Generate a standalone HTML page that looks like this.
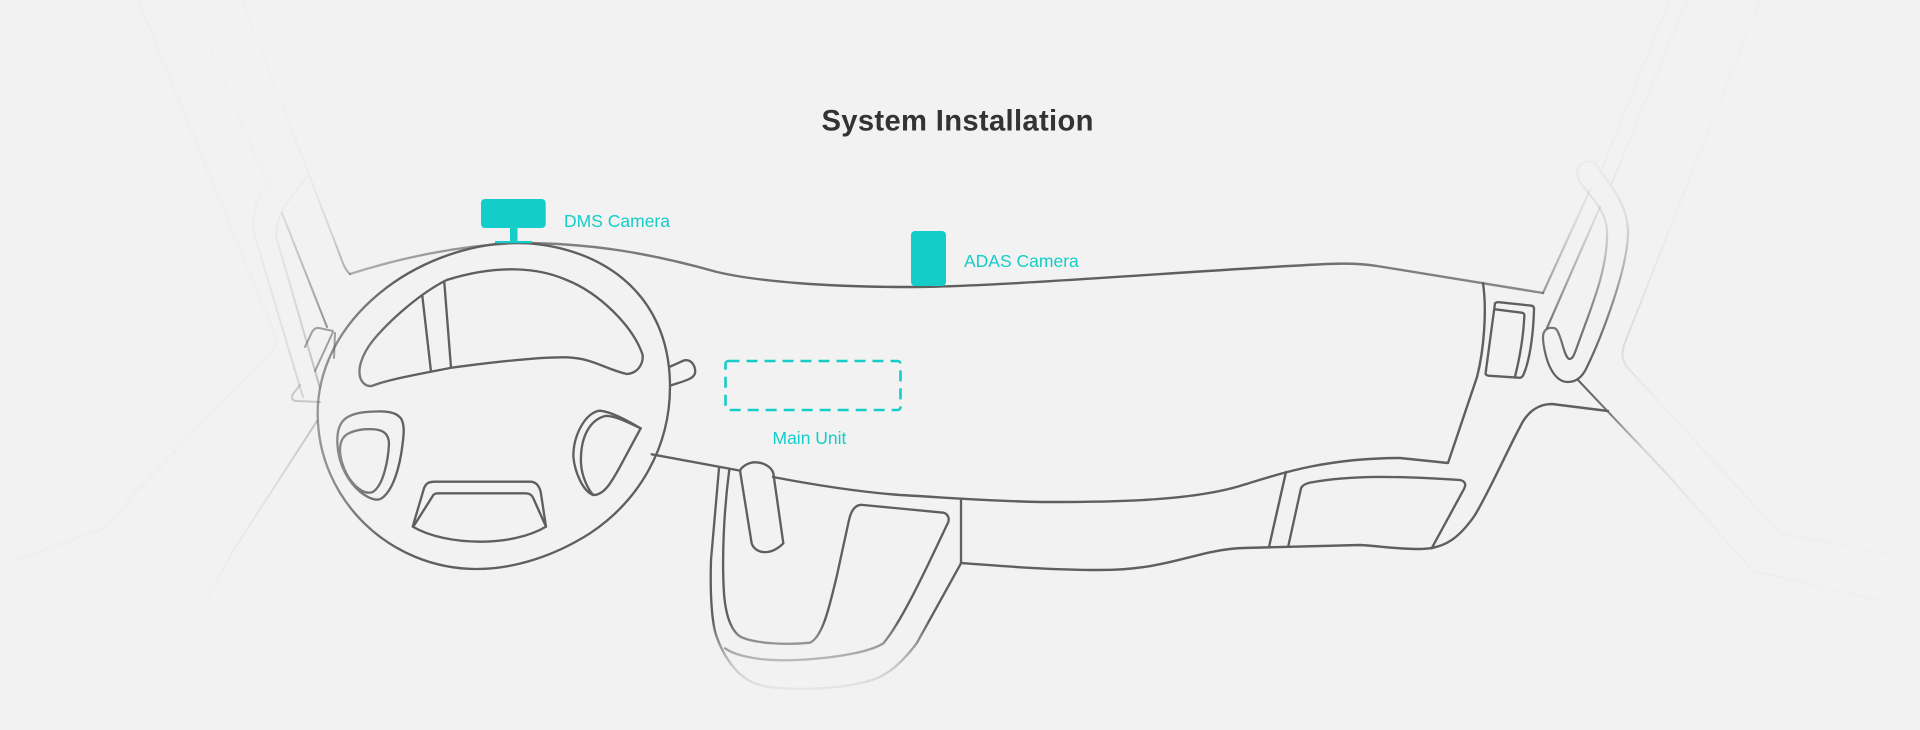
<!DOCTYPE html>
<html><head><meta charset="utf-8"><style>
html,body{margin:0;padding:0;background:#f2f2f2}
svg{display:block}
text{font-family:"Liberation Sans",sans-serif}
</style></head><body>
<svg width="1920" height="730" viewBox="0 0 1920 730" xmlns="http://www.w3.org/2000/svg" fill="none" stroke-linejoin="round" stroke-linecap="round">
<defs>
<filter id="soft" filterUnits="userSpaceOnUse" x="0" y="0" width="1920" height="730"><feGaussianBlur stdDeviation=".3"/></filter>
<linearGradient id="gTop" gradientUnits="userSpaceOnUse" x1="350" y1="0" x2="1543" y2="0">
<stop offset="0" stop-color="#5e5e5e" stop-opacity=".45"/><stop offset=".15" stop-color="#5e5e5e" stop-opacity=".75"/><stop offset=".3" stop-color="#5e5e5e" stop-opacity=".85"/><stop offset=".42" stop-color="#5e5e5e"/><stop offset=".75" stop-color="#5e5e5e"/><stop offset=".87" stop-color="#5e5e5e" stop-opacity=".8"/><stop offset="1" stop-color="#5e5e5e" stop-opacity=".7"/>
</linearGradient>
<linearGradient id="gRP" gradientUnits="userSpaceOnUse" x1="0" y1="130" x2="0" y2="370">
<stop offset="0" stop-color="#5e5e5e" stop-opacity=".015"/><stop offset=".17" stop-color="#5e5e5e" stop-opacity=".05"/><stop offset=".375" stop-color="#5e5e5e" stop-opacity=".15"/><stop offset=".54" stop-color="#5e5e5e" stop-opacity=".38"/><stop offset=".8" stop-color="#5e5e5e" stop-opacity=".8"/><stop offset="1" stop-color="#5e5e5e"/>
</linearGradient>
<linearGradient id="gLA" gradientUnits="userSpaceOnUse" x1="0" y1="110" x2="0" y2="400">
<stop offset="0" stop-color="#666" stop-opacity=".008"/><stop offset=".4" stop-color="#666" stop-opacity=".03"/><stop offset=".8" stop-color="#666" stop-opacity=".14"/><stop offset="1" stop-color="#666" stop-opacity=".22"/>
</linearGradient>
<linearGradient id="gLB" gradientUnits="userSpaceOnUse" x1="0" y1="150" x2="0" y2="400">
<stop offset="0" stop-color="#666" stop-opacity=".02"/><stop offset=".35" stop-color="#666" stop-opacity=".07"/><stop offset=".6" stop-color="#666" stop-opacity=".18"/><stop offset="1" stop-color="#666" stop-opacity=".4"/>
</linearGradient>
<linearGradient id="gLT" gradientUnits="userSpaceOnUse" x1="0" y1="100" x2="0" y2="274">
<stop offset="0" stop-color="#666" stop-opacity=".012"/><stop offset=".46" stop-color="#666" stop-opacity=".04"/><stop offset=".75" stop-color="#666" stop-opacity=".2"/><stop offset="1" stop-color="#666" stop-opacity=".5"/>
</linearGradient>
<linearGradient id="gLC" gradientUnits="userSpaceOnUse" x1="0" y1="210" x2="0" y2="330">
<stop offset="0" stop-color="#666" stop-opacity=".12"/><stop offset="1" stop-color="#666" stop-opacity=".7"/>
</linearGradient>
<linearGradient id="gLL" gradientUnits="userSpaceOnUse" x1="0" y1="421" x2="0" y2="600">
<stop offset="0" stop-color="#666" stop-opacity=".35"/><stop offset=".45" stop-color="#666" stop-opacity=".1"/><stop offset="1" stop-color="#666" stop-opacity=".01"/>
</linearGradient>
<linearGradient id="gDiag" gradientUnits="userSpaceOnUse" x1="1578" y1="0" x2="1880" y2="0">
<stop offset="0" stop-color="#5e5e5e"/><stop offset=".1" stop-color="#5e5e5e" stop-opacity=".85"/><stop offset=".22" stop-color="#666" stop-opacity=".22"/><stop offset=".4" stop-color="#666" stop-opacity=".035"/><stop offset="1" stop-color="#666" stop-opacity=".015"/>
</linearGradient>
<linearGradient id="gRF" gradientUnits="userSpaceOnUse" x1="0" y1="0" x2="0" y2="560">
<stop offset="0" stop-color="#666" stop-opacity=".01"/><stop offset=".4" stop-color="#666" stop-opacity=".03"/><stop offset=".62" stop-color="#666" stop-opacity=".16"/><stop offset=".72" stop-color="#666" stop-opacity=".035"/><stop offset="1" stop-color="#666" stop-opacity=".02"/>
</linearGradient>
<linearGradient id="gMh" gradientUnits="userSpaceOnUse" x1="315" y1="0" x2="400" y2="0">
<stop offset="0" stop-color="#fff" stop-opacity=".6"/><stop offset="1" stop-color="#fff"/>
</linearGradient>
<linearGradient id="gMv" gradientUnits="userSpaceOnUse" x1="0" y1="620" x2="0" y2="692">
<stop offset="0" stop-color="#fff"/><stop offset=".4" stop-color="#fff" stop-opacity=".55"/><stop offset=".65" stop-color="#fff" stop-opacity=".28"/><stop offset="1" stop-color="#fff" stop-opacity=".05"/>
</linearGradient>
<mask id="mH" maskUnits="userSpaceOnUse" x="0" y="0" width="1920" height="730"><rect width="1920" height="730" fill="url(#gMh)"/></mask>
<mask id="mV" maskUnits="userSpaceOnUse" x="0" y="0" width="1920" height="730"><rect width="1920" height="730" fill="url(#gMv)"/></mask>
</defs>
<rect width="1920" height="730" fill="#f2f2f2"/>

<g filter="url(#soft)">
<!-- far faint lines -->
<g stroke-width="2">
<path d="M138 0L275 335Q279 344 272 351L128 500Q117 520 100 530L18 559" stroke="#666" stroke-opacity=".025"/>
<path d="M190 0L267 183" stroke="url(#gLA)"/>
<path d="M297 155L262 192Q253 205 253 230L303 397" stroke="url(#gLA)"/>
<path d="M308 175L286 204Q276 220 276 236L320 388" stroke="url(#gLB)"/>
<path d="M282 213L327 327" stroke="url(#gLC)"/>
<path d="M242 0L341 258Q345 270 350 274" stroke="url(#gLT)"/>
<path d="M317 421L233 551L207 599" stroke="url(#gLL)"/>
<path d="M300 385L293 394Q290 400 296 401L320 402" stroke="#666" stroke-opacity=".3"/>
<path d="M333 331L319 328Q315 327 312 332L305 347M333 332L315 371M335 333L334 358" stroke="#666" stroke-opacity=".6"/>
</g>

<!-- top dash line -->
<path d="M350 274C400 258 460 245 520 243C590 243 650 253 717 272C760 282 830 287 910 287C1000 287 1200 270 1327 264C1350 263 1365 264 1377 266L1543 293" stroke="url(#gTop)" stroke-width="2.4"/>

<!-- steering wheel -->
<g mask="url(#mH)"><g transform="translate(280 180) scale(.33333)" stroke="#5e5e5e" stroke-width="7">
<path d="M700 188C950 190 1170 330 1170 620C1170 800 1080 960 930 1060C820 1130 700 1167 590 1167C330 1167 113 960 113 700C113 420 400 200 700 188Z"/>
<path d="M275 618C320 600 400 585 515 563C650 545 780 530 860 532C940 535 970 565 1040 582C1075 580 1090 550 1088 525C1060 440 960 340 860 300C780 265 660 250 500 300C420 340 330 420 280 480C240 530 235 570 240 590C245 610 260 620 275 618Z"/>
<path d="M427 348L453 575M493 308L513 563"/>
<path d="M172 790C170 730 190 705 250 697C300 692 340 692 358 710C375 725 372 760 368 790C360 860 340 930 305 955C290 965 265 955 240 935C210 910 175 860 172 790Z"/>
<path d="M180 810C180 770 200 755 250 748C295 745 325 750 327 790C325 840 310 915 280 935C260 945 235 930 215 905C195 880 180 840 180 810Z"/>
<path d="M1082 745C1030 715 990 695 960 692C920 695 880 760 880 830C885 880 910 935 940 945C970 945 990 915 1020 860Z"/>
<path d="M1082 745C1040 725 1000 705 975 708C930 720 900 770 903 850C905 890 925 930 940 945"/>
<path d="M398 1040L432 925C438 910 445 905 465 905L750 905C770 905 778 920 782 935L798 1040C700 1100 500 1100 398 1040Z"/>
<path d="M400 1040L460 945C465 940 470 940 480 940L735 940C750 940 755 945 760 955L798 1040"/>
<path d="M1170 560L1210 542C1235 535 1248 560 1245 580C1240 595 1225 600 1170 617"/>
</g></g>

<!-- lower console -->
<g mask="url(#mV)"><g transform="translate(650 200) scale(.33333)" stroke="#5e5e5e" stroke-width="7">
<path d="M5 763L270 812"/>
<path d="M270 812L305 1030C315 1060 360 1070 400 1030L370 820C365 800 340 787 315 787C295 787 275 800 270 812Z"/>
<path d="M933 897L933 1090"/>
<path d="M207 805L183 1080C180 1180 185 1270 200 1310C225 1380 270 1440 330 1455C400 1475 590 1470 680 1435C730 1415 770 1370 800 1330L933 1090"/>
<path d="M238 808C222 930 215 1070 222 1180C228 1260 250 1300 275 1312C320 1332 420 1335 480 1328C520 1310 540 1210 560 1130L597 960C605 925 620 912 640 915L880 938C895 942 900 958 893 970C850 1060 760 1260 700 1330C660 1355 560 1375 440 1380C340 1385 260 1370 225 1345"/>
</g></g>

<!-- right side of dash -->
<g stroke="#5e5e5e" stroke-width="2.4">
<path d="M773 477C820 486 860 492 900 495C940 497 1000 502 1050 502C1100 502 1190 502 1243 485C1270 477 1320 458 1400 458L1448 463L1477 377C1484 350 1487 310 1483 283"/>
<path d="M961 563C1000 566 1050 570 1100 570C1170 570 1195 550 1243 548L1360 545C1380 546 1395 549 1420 549C1445 549 1460 537 1475 515C1490 490 1510 445 1520 427C1528 410 1540 404 1552 404L1608 411"/>
<path d="M1286 472L1269 547"/>
</g>
<g transform="translate(1200 240) scale(.33333)" stroke="#5e5e5e" stroke-width="7">
<path d="M265 918L303 745Q308 733 330 728C450 705 600 708 780 720Q802 725 793 745L695 925"/>
<path d="M885 190Q890 185 900 187L995 197Q1003 198 1002 210C1000 280 990 360 970 405Q965 415 955 413L865 407Q855 405 857 398Z"/>
<path d="M885 208L965 218Q975 220 973 230C970 290 960 350 945 410"/>
</g>

<!-- right pillars -->
<g stroke-width="2.2" stroke="url(#gRP)">
<path d="M1543 293L1590 190"/>
<path d="M1547 328L1600 207"/>
<path d="M1628 232C1628 270 1600 340 1587 367C1582 378 1575 382 1568 382C1558 382 1552 372 1549 365C1546 358 1543 345 1543 337C1543 330 1548 327 1553 328C1557 328 1558 332 1560 337C1563 345 1565 357 1569 359C1573 359 1574 355 1577 347C1590 310 1608 270 1607 232C1607 212 1590 195 1582 185C1575 175 1575 165 1585 162C1592 160 1596 163 1600 170C1610 185 1628 205 1628 232Z"/>
<path d="M1602 168L1670 0M1612 183L1687 0"/>
</g>
<g stroke-width="2">
<path d="M1760 0L1624 345Q1620 358 1627 367L1777 530Q1783 534 1790 535L1888 554" stroke="url(#gRF)"/>
<path d="M1578 380L1667 474L1753 571L1878 600" stroke="url(#gDiag)"/>
</g>
</g>

<!-- teal items -->
<rect x="481" y="199" width="64.7" height="29" rx="4" fill="#14cdc8"/>
<rect x="510" y="227" width="7.5" height="15" fill="#14cdc8"/>
<rect x="495" y="241" width="37" height="2.2" fill="#14cdc8"/>
<rect x="911" y="231" width="35" height="55" rx="4" fill="#14cdc8"/>
<rect x="725.5" y="361" width="175" height="49" rx="3" stroke="#14cdc8" stroke-width="2.6" stroke-dasharray="11 7" stroke-linecap="butt"/>

<g font-size="17.5" fill="#14cdc8" stroke="none">
<text x="564" y="227">DMS Camera</text>
<text x="964" y="267">ADAS Camera</text>
<text x="772.5" y="444">Main Unit</text>
</g>
<text x="821.5" y="130.5" font-size="29.2" font-weight="700" letter-spacing=".33" fill="#333" stroke="none">System Installation</text>
</svg>
</body></html>
